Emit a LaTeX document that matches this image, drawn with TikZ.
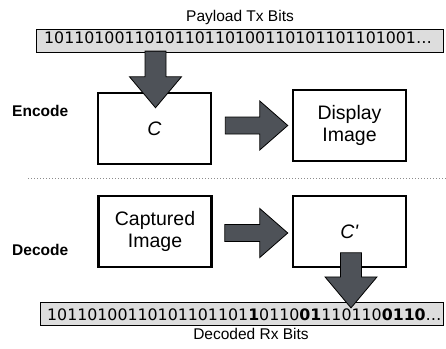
\documentclass[tikz,border=0pt]{standalone}
\usepackage{fontspec}
\setmainfont{Liberation Sans}
\newfontfamily\bitsfont{DejaVu Sans}
\usetikzlibrary{calc}
\definecolor{arrowgray}{RGB}{78,82,88}
\definecolor{barfill}{RGB}{221,221,221}
\definecolor{sepgray}{RGB}{140,140,140}

% fat block arrows: start of shaft, tip
\newcommand\downfat[2]{%
  \draw[fatarrow] let \p1=(#1), \p2=(#2) in
    (\x1-10.5pt,\y1) -- (\x1+10.5pt,\y1) -- (\x1+10.5pt,\y2+31pt) --
    (\x1+26pt,\y2+31pt) -- (\x1,\y2) -- (\x1-26pt,\y2+31pt) --
    (\x1-10.5pt,\y2+31pt) -- cycle;}
\newcommand\rightfat[2]{%
  \draw[fatarrow] let \p1=(#1), \p2=(#2) in
    (\x1,\y1+8.5pt) -- (\x2-28pt,\y1+8.5pt) -- (\x2-28pt,\y1+24.5pt) --
    (\x2,\y1) -- (\x2-28pt,\y1-24.5pt) -- (\x2-28pt,\y1-8.5pt) --
    (\x1,\y1-8.5pt) -- cycle;}

\begin{document}
\begin{tikzpicture}[x=1pt,y=-1pt,
  stage/.style={draw=black, line width=2.5pt, fill=white,
    minimum width=113pt, minimum height=71pt, inner sep=0pt,
    align=center, font=\fontsize{19.5}{22}\selectfont},
  bitbar/.style={draw=black, line width=1.2pt, fill=barfill,
    minimum height=23pt, inner sep=0pt},
  bits/.style={font=\bitsfont\fontsize{15.8}{18}\selectfont,
    anchor=base west, inner sep=0pt},
  caption/.style={font=\fontsize{15.5}{18}\selectfont, anchor=base, inner sep=0pt},
  phase/.style={font=\bfseries\fontsize{15.5}{18}\selectfont,
    anchor=base west, inner sep=0pt},
  fatarrow/.style={fill=arrowgray, draw=black, line width=0.8pt, line join=miter}]

\useasboundingbox (0,0) rectangle (446,348);

% transmitted bits
\node[caption] (txlabel) at (240,21) {Payload Tx Bits};
\node[bitbar, minimum width=407pt] (txbar) at (240,41) {};
\node[bits] (txbits) at (44,43) {1011010011010110110100110101101101001…};

% encoder side
\node[phase] (enc) at (12,116) {Encode};
\node[stage] (C) at (154.5,128.5) {\textit{C}};
\node[stage] (disp) at (349.5,125.5) {Display\\Image};

% separator between the two phases
\draw[sepgray, line width=1pt, dash pattern=on 1pt off 2pt] (28,178) -- (446,178);

% decoder side
\node[phase] (dec) at (12,255) {Decode};
\node[stage] (cap) at (155,231.5) {Captured\\Image};
\node[stage] (Cp) at (349.5,231.5) {\textit{C\textquotesingle}};

% received bits, flipped bits in bold
\node[bitbar, minimum width=403pt] (rxbar) at (242,314) {};
\node[bits] (rxbits) at (47,320) {10110100110101101101\textbf{1}0110\textbf{01}110110\textbf{0110}…};
\node[caption] (rxlabel) at (251,339) {Decoded Rx Bits};

% flow arrows
\downfat{$(C.north |- txbar.south)+(1,-2)$}{$(C.north)+(1,16)$}
\rightfat{$(C.east)+(13,-3)$}{$(disp.west)+(-4,0)$}
\rightfat{$(cap.east)+(12,1.5)$}{$(Cp.west)+(-4,0)$}
\downfat{$(Cp.south)+(1.5,-15.5)$}{$(Cp.south |- rxbar.north)+(1.5,6)$}

\end{tikzpicture}
\end{document}
